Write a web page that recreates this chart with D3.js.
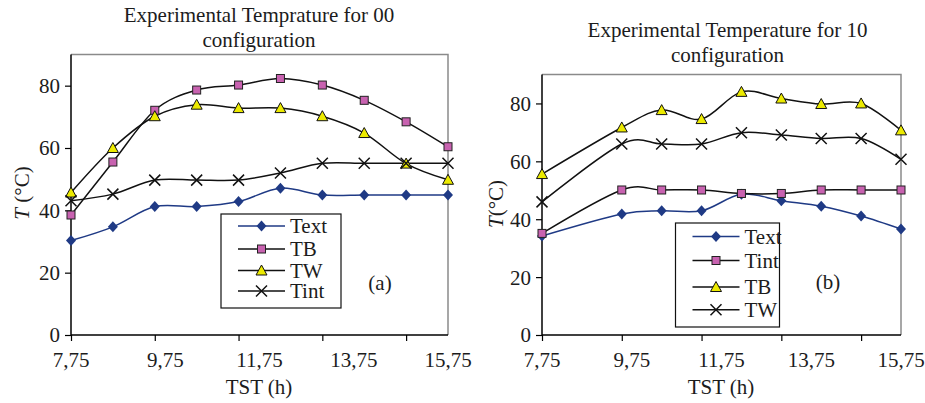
<!DOCTYPE html>
<html>
<head>
<meta charset="utf-8">
<script src="https://cdn.jsdelivr.net/npm/d3@7"></script>
<style>
  body { margin: 0; background: #fff; }
  svg { display: block; }
  svg text { font-family: "Liberation Serif", "DejaVu Serif", serif; }
</style>
</head>
<body>
<div id="chart"></div>
<script>
// x tick labels (linear, evenly spread) and 10 measurement slots per chart
const tickHours = [7.75, 9.75, 11.75, 13.75, 15.75];
const slots = [0, 1, 2, 3, 4, 5, 6, 7, 8, 9];
const yTicks = [0, 20, 40, 60, 80];

// (a) configuration 00
const a_Text = [30.3, 34.7, 41.2, 41.2, 42.8, 47.1, 44.9, 44.9, 44.9, 44.9];
const a_TB   = [38.5, 55.5, 72.1, 78.6, 80.2, 82.3, 80.2, 75.3, 68.4, 60.4];
const a_TW   = [45.7, 60.0, 70.2, 73.9, 72.8, 72.8, 70.2, 64.8, 55.0, 49.8];
const a_Tint = [43.1, 45.2, 49.7, 49.7, 49.7, 52.0, 55.1, 55.1, 55.1, 55.1];

// (b) configuration 10 (second slot has no reading)
const b_Text = [34.2, null, 41.8, 42.9, 42.9, 48.6, 46.4, 44.5, 41.1, 36.6];
const b_Tint = [35.1, null, 50.1, 50.1, 50.1, 48.9, 48.9, 50.1, 50.1, 50.1];
const b_TB   = [55.6, null, 71.7, 77.7, 74.6, 84.0, 81.7, 79.8, 80.0, 70.7];
const b_TW   = [46.0, null, 66.0, 66.0, 66.0, 69.9, 69.1, 67.9, 67.9, 60.7];

const NAVY = "#1f3a85", PINK = "#c862b0", YELLOW = "#ecea00";
const FONT = "Liberation Serif, DejaVu Serif, serif";
const FS = 21;

let svg = d3.select("#chart").append("svg")
    .attr("width", 925)
    .attr("height", 403)
    .attr("font-family", FONT);

function drawMarker(g, type) {
    if (type == "diamond") {
        g.append("path").attr("d", "M0,-5.5L5,0L0,5.5L-5,0Z").attr("fill", NAVY);
    } else if (type == "square") {
        g.append("rect").attr("x", -4).attr("y", -4).attr("width", 8).attr("height", 8)
            .attr("fill", PINK).attr("stroke", "#222").attr("stroke-width", 1);
    } else if (type == "triangle") {
        g.append("path").attr("d", "M0,-5.5L5.5,4.5L-5.5,4.5Z")
            .attr("fill", YELLOW).attr("stroke", "#111").attr("stroke-width", 1);
    } else {
        g.append("path").attr("d", "M-5.5,-5.5L5.5,5.5M-5.5,5.5L5.5,-5.5")
            .attr("stroke", "#111").attr("stroke-width", 1.5).attr("fill", "none");
    }
}

function label(g, x, y, txt, anchor="middle") {
    return g.append("text")
        .attr("x", x).attr("y", y)
        .attr("text-anchor", anchor)
        .attr("font-family", FONT)
        .attr("font-size", FS)
        .attr("fill", "#1c1c1c")
        .text(txt);
}

function makeChart(o) {
    let g = svg.append("g");
    let x = d3.scalePoint().domain(slots).range([o.x0, o.x1]);
    let xl = d3.scaleLinear().domain([tickHours[0], tickHours[tickHours.length - 1]]).range([o.x0, o.x1]);
    let y = d3.scaleLinear().domain([0, 90]).range([o.y1, o.y0]);

    // frame: grey top/right
    g.append("path")
        .attr("d", `M${o.x0},${o.y0}H${o.x1}V${o.y1}`)
        .attr("fill", "none").attr("stroke", "#8a8a8a").attr("stroke-width", 1.5);

    // y axis
    let ya = g.append("g").attr("transform", `translate(${o.x0},0)`)
        .call(d3.axisLeft(y).tickValues(yTicks).tickSize(6).tickPadding(5))
        .attr("font-family", FONT);
    ya.select(".domain").attr("d", `M0,${o.y0}V${o.y1}`).attr("stroke-width", 1.5);
    ya.selectAll(".tick line").attr("stroke-width", 1.2);
    ya.selectAll("text").attr("font-size", FS).attr("font-family", FONT)
        .attr("fill", "#1c1c1c").attr("dy", "0.33em");

    // x axis: tick marks on every other slot, labels spread linearly
    let xa = g.append("g").attr("transform", `translate(0,${o.y1})`)
        .call(d3.axisBottom(x).tickValues(slots.filter(d => d % 2 == 0)).tickSize(6).tickFormat(""));
    xa.select(".domain").attr("d", `M${o.x0},0H${o.x1}`).attr("stroke-width", 1.5);
    xa.selectAll(".tick line").attr("stroke-width", 1.2);
    tickHours.forEach(d => label(g, xl(d), o.y1 + 32, String(d).replace(".", ",")));

    // series
    let line = d3.line()
        .x(d => x(d.i))
        .y(d => y(d.v))
        .curve(d3.curveCatmullRom.alpha(0));
    o.series.forEach(s => {
        let pts = s.values.map((v, i) => ({i: i, v: v})).filter(d => d.v != null);
        g.append("path")
            .attr("d", line(pts))
            .attr("fill", "none")
            .attr("stroke", s.color)
            .attr("stroke-width", 1.5);
        s.pts = pts;
    });
    o.series.forEach(s => {
        s.pts.forEach(d => {
            let m = g.append("g").attr("transform", `translate(${x(d.i)},${y(d.v)})`);
            drawMarker(m, s.marker);
        });
    });

    // titles
    o.title.forEach((t, k) => label(g, o.titleX, o.titleY + k * 24.5, t));
    label(g, (o.x0 + o.x1) / 2 - 0.5, 394, "TST (h)");
    let yt = g.append("text")
        .attr("transform", `translate(${o.yTitleX},${o.yTitleY}) rotate(-90)`)
        .attr("text-anchor", "middle")
        .attr("font-family", FONT)
        .attr("font-size", FS)
        .attr("fill", "#1c1c1c");
    yt.append("tspan").attr("font-style", "italic").text("T");
    yt.append("tspan").text(o.yUnit);

    // legend
    let lg = o.legend;
    g.append("rect")
        .attr("x", lg.x).attr("y", lg.y).attr("width", lg.w).attr("height", lg.h)
        .attr("fill", "#fff").attr("stroke", "#111").attr("stroke-width", 1.2);
    o.series.forEach((s, k) => {
        let ry = lg.rows[k];
        g.append("line")
            .attr("x1", lg.x + 17).attr("x2", lg.x + 64)
            .attr("y1", ry).attr("y2", ry)
            .attr("stroke", s.color).attr("stroke-width", 1.5);
        drawMarker(g.append("g").attr("transform", `translate(${lg.x + 40.5},${ry})`), s.marker);
        label(g, lg.x + 69, ry + 7, s.name, "start");
    });
    label(g, o.tag[0], o.tag[1], o.tag[2]);
}

makeChart({
    x0: 71, x1: 448, y0: 54.5, y1: 335,
    title: ["Experimental Temprature for 00", "configuration"],
    titleX: 259, titleY: 22,
    yTitleX: 29, yTitleY: 193, yUnit: " (°C)",
    legend: {x: 221, y: 214, w: 120, h: 94, rows: [226, 249, 270.5, 291]},
    tag: [380, 290, "(a)"],
    series: [
        {name: "Text", values: a_Text, color: NAVY, marker: "diamond"},
        {name: "TB", values: a_TB, color: "#111", marker: "square"},
        {name: "TW", values: a_TW, color: "#111", marker: "triangle"},
        {name: "Tint", values: a_Tint, color: "#111", marker: "x"}
    ]
});

makeChart({
    x0: 542, x1: 901, y0: 74.5, y1: 335,
    title: ["Experimental Temperature for 10", "configuration"],
    titleX: 727.5, titleY: 37,
    yTitleX: 503, yTitleY: 204, yUnit: "(°C)",
    legend: {x: 675.5, y: 223, w: 104, h: 104, rows: [236.5, 260.5, 287, 309.7]},
    tag: [828, 289, "(b)"],
    series: [
        {name: "Text", values: b_Text, color: NAVY, marker: "diamond"},
        {name: "Tint", values: b_Tint, color: "#111", marker: "square"},
        {name: "TB", values: b_TB, color: "#111", marker: "triangle"},
        {name: "TW", values: b_TW, color: "#111", marker: "x"}
    ]
});
</script>
</body>
</html>
